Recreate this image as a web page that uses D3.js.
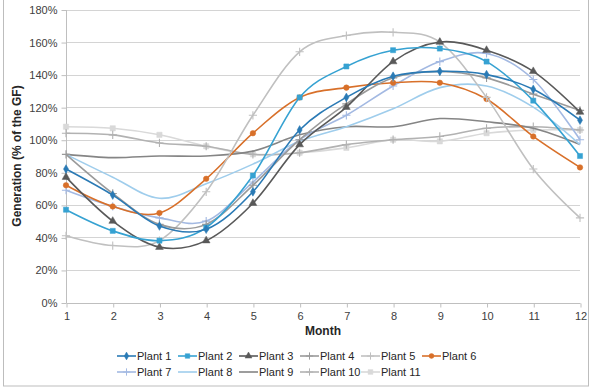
<!DOCTYPE html>
<html>
<head>
<meta charset="utf-8">
<script src="https://cdn.jsdelivr.net/npm/d3@7"></script>
<style>
    body { margin: 0; background: #fff; }
    text { font-family: "Liberation Sans", Arial, sans-serif; }
    .tick text { font-size: 11px; fill: #404040; }
    .title { font-size: 12px; font-weight: bold; fill: #262626; }
    .legend { font-size: 11px; fill: #262626; }
</style>
</head>
<body>
<div id="chart"></div>
<script>
    // values (share of the GF)
    let months = [1, 2, 3, 4, 5, 6, 7, 8, 9, 10, 11, 12];
    let plantNames = ["Plant 1", "Plant 2", "Plant 3", "Plant 4", "Plant 5", "Plant 6",
                      "Plant 7", "Plant 8", "Plant 9", "Plant 10", "Plant 11"];
    let plant1  = [82, 66, 47, 45, 68, 106, 126, 139, 142, 140, 131, 112];
    let plant2  = [57, 44, 38, 46, 78, 126, 145, 155, 156, 148, 124, 90];
    let plant3  = [77, 50, 34, 38, 61, 97, 120, 148, 160, 155, 142, 117];
    let plant4  = [91, 67, 48, 48, 72, 100, 122, 138, 142, 138, 128, 118];
    let plant5  = [41, 35, 38, 68, 115, 154, 164, 166, 160, 126, 82, 52];
    let plant6  = [72, 59, 55, 76, 104, 126, 132, 135, 135, 125, 102, 83];
    let plant7  = [69, 59, 52, 50, 74, 100, 115, 133, 148, 153, 137, 100];
    let plant8  = [91, 77, 64, 73, 85, 99, 108, 119, 132, 133, 120, 97];
    let plant9  = [91, 89, 90, 90, 93, 103, 108, 108, 113, 111, 107, 97];
    let plant10 = [104, 103, 98, 96, 91, 92, 97, 100, 102, 107, 108, 106];
    let plant11 = [108, 107, 103, 96, 91, 92, 95, 100, 99, 104, 106, 106];
    let yTicks = [0, 20, 40, 60, 80, 100, 120, 140, 160, 180];

    let seriesValues = [plant1, plant2, plant3, plant4, plant5, plant6,
                        plant7, plant8, plant9, plant10, plant11];
    let colors = ["#2a7ab5", "#36a2d2", "#595959", "#9a9a9a", "#c0c0c0", "#d8702a",
                  "#a3b9e2", "#9fcdec", "#858585", "#b2b2b2", "#d9d9d9"];
    let plusType = d3.symbolPlus || d3.symbolCross;
    let markers = [d3.symbolDiamond, d3.symbolSquare, d3.symbolTriangle, plusType, plusType, d3.symbolCircle,
                   plusType, null, null, plusType, d3.symbolSquare];
    let markerSize = [22, 26, 26, 24, 24, 24, 24, 0, 0, 24, 28];

    let width = 591, height = 390;
    let svg = d3.select("#chart")
        .append("svg")
        .attr("width", width)
        .attr("height", height);

    // outer frame
    svg.append("rect")
        .attr("x", 3.5)
        .attr("y", -2)
        .attr("width", 585)
        .attr("height", 388)
        .style("fill", "none")
        .style("stroke", "#bdbdbd");

    let x = d3.scaleLinear().domain([1, 12]).range([66, 580]);
    let y = d3.scaleLinear().domain([0, 180]).range([302.5, 9.5]);

    // gridlines
    svg.append("g")
        .selectAll("line")
        .data(yTicks.slice(1))
        .join("line")
        .attr("x1", x(1))
        .attr("x2", x(12))
        .attr("y1", d => Math.round(y(d)) + 0.5)
        .attr("y2", d => Math.round(y(d)) + 0.5)
        .style("stroke", "#d4d4d4");

    // y axis
    let yAxis = svg.append("g")
        .attr("transform", `translate(${x(1) + 0.5}, 0.5)`)
        .call(d3.axisLeft(y).tickValues(yTicks).tickSize(5).tickPadding(4).tickFormat(d => d + "%"));
    yAxis.selectAll("path, line").style("stroke", "#bfbfbf");
    yAxis.select(".domain").attr("d", `M0,${y(0)}V${y(180)}`);

    // x axis
    let xAxis = svg.append("g")
        .attr("transform", `translate(0.5, ${Math.round(y(0)) + 0.5})`)
        .call(d3.axisBottom(x).tickValues(months).tickSize(4).tickPadding(5).tickFormat(d3.format("d")));
    xAxis.selectAll("path, line").style("stroke", "#bfbfbf");
    xAxis.select(".domain").attr("d", `M${x(1)},0H${x(12)}`);
    svg.selectAll(".tick text").attr("font-family", null);

    svg.append("text")
        .attr("class", "title")
        .attr("text-anchor", "middle")
        .attr("x", (x(1) + x(12)) / 2)
        .attr("y", 335)
        .text("Month");
    svg.append("text")
        .attr("class", "title")
        .attr("text-anchor", "middle")
        .attr("transform", `translate(21, ${y(90)}) rotate(-90)`)
        .text("Generation (% of the GF)");

    let line = d3.line()
        .x((d, i) => x(months[i]))
        .y(d => y(d))
        .curve(d3.curveCatmullRom.alpha(0));

    // draw lines from last to first so Plant 1 sits on top
    let order = d3.range(seriesValues.length).reverse();
    order.forEach(function(k){
        svg.append("path")
            .datum(seriesValues[k])
            .attr("d", line)
            .style("fill", "none")
            .style("stroke", colors[k])
            .style("stroke-width", 1.6);
        if (markers[k]) {
            let isPlus = markers[k] === d3.symbolPlus;
            svg.selectAll(".mark" + k)
                .data(seriesValues[k])
                .join("path")
                .attr("class", "mark" + k)
                .attr("transform", (d, i) => `translate(${x(months[i])}, ${y(d)})`)
                .attr("d", d3.symbol().type(markers[k]).size(markerSize[k]))
                .style("fill", isPlus ? "none" : colors[k])
                .style("stroke", colors[k])
                .style("stroke-width", isPlus ? 1.1 : 0.5);
        }
    });

    // legend
    let legendX = [117, 178, 239, 300, 361, 422];
    let legendY = [356, 372];
    plantNames.forEach(function(name, k){
        let lx = legendX[k % 6], ly = legendY[Math.floor(k / 6)];
        svg.append("line")
            .attr("x1", lx)
            .attr("x2", lx + 19)
            .attr("y1", ly)
            .attr("y2", ly)
            .style("stroke", colors[k])
            .style("stroke-width", 1.6);
        if (markers[k]) {
            let isPlus = markers[k] === d3.symbolPlus;
            svg.append("path")
                .attr("transform", `translate(${lx + 9.5}, ${ly})`)
                .attr("d", d3.symbol().type(markers[k]).size(markerSize[k] * 0.8))
                .style("fill", isPlus ? "none" : colors[k])
                .style("stroke", colors[k])
                .style("stroke-width", isPlus ? 1 : 0.5);
        }
        svg.append("text")
            .attr("class", "legend")
            .attr("x", lx + 20)
            .attr("y", ly + 4)
            .text(name);
    });
</script>
</body>
</html>
